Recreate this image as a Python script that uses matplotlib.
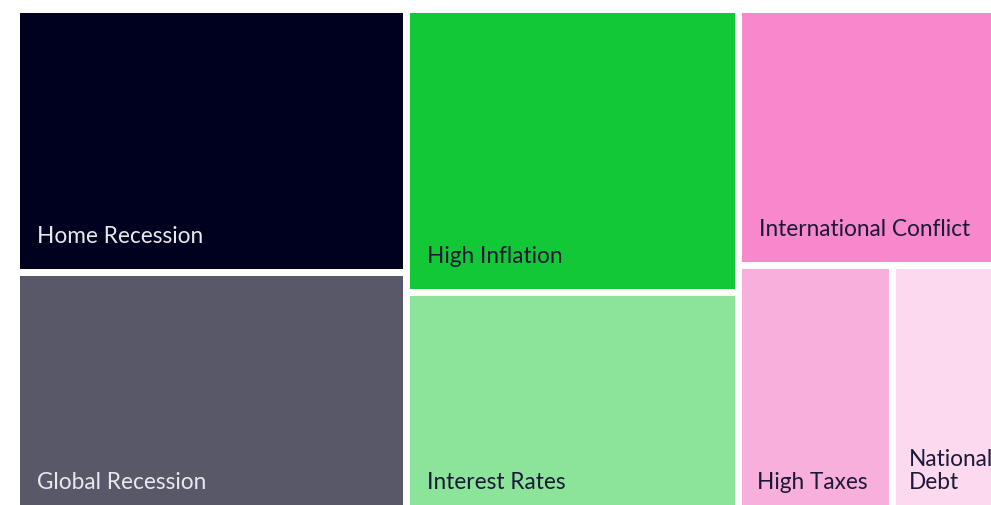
import numpy as np
from matplotlib import pyplot as plt
from matplotlib.patches import Rectangle

# survey shares (%), grouped into the treemap's three columns
labels = ["Home Recession", "Global Recession", "High Inflation", "Interest Rates",
          "International Conflict", "High Taxes", "National\nDebt"]
values = [20.2, 18.9, 18.5, 14.8, 13.9, 7.7, 6.0]
colors = ["#00001f", "#585869", "#13c837", "#8ce39a", "#f887cc", "#f8afdc", "#fcd9ef"]
text_colors = ["#e8e8ee", "#e8e8ee", "#1a1a38", "#1a1a38", "#1a1a38", "#1a1a38", "#1a1a38"]

W, H = 991, 505
# full treemap area in pixels (it runs past the right and bottom edges of the picture)
X0, Y0, TW, TH = 16.5, 9.0, 997.0, 509.5
GAP = 3.5


def layout(vals):
    # columns: [home, global], [inflation, interest], [conflict, [taxes, debt]]
    cols = [[0, 1], [2, 3], [4, (5, 6)]]
    total = sum(vals)
    rects = {}
    x = X0
    for col in cols:
        idx = [i for c in col for i in (c if isinstance(c, tuple) else (c,))]
        csum = sum(vals[i] for i in idx)
        cw = TW * csum / total
        y = Y0
        for c in col:
            group = c if isinstance(c, tuple) else (c,)
            gsum = sum(vals[i] for i in group)
            gh = TH * gsum / csum
            gx = x
            for i in group:
                gw = cw * vals[i] / gsum
                rects[i] = (gx, y, gw, gh)
                gx += gw
            y += gh
        x += cw
    return [rects[i] for i in range(len(vals))]


fig = plt.figure(figsize=(W / 100, H / 100), dpi=100)
ax = fig.add_axes([0, 0, 1, 1])
ax.set_xlim(0, W); ax.set_ylim(H, 0); ax.axis("off")

for (x, y, w, h), lab, c, tc in zip(layout(values), labels, colors, text_colors):
    ax.add_patch(Rectangle((x + GAP, y + GAP), w - 2 * GAP, h - 2 * GAP, fc=c, ec="none"))
    pad = min(17, 0.1 * w)
    ax.text(x + GAP + pad, y + h - GAP - 26, lab, color=tc, fontsize=16.3, family=["Lato", "DejaVu Sans"],
            ha="left", va="baseline", linespacing=1.1)

plt.savefig("out.png", dpi=100)
